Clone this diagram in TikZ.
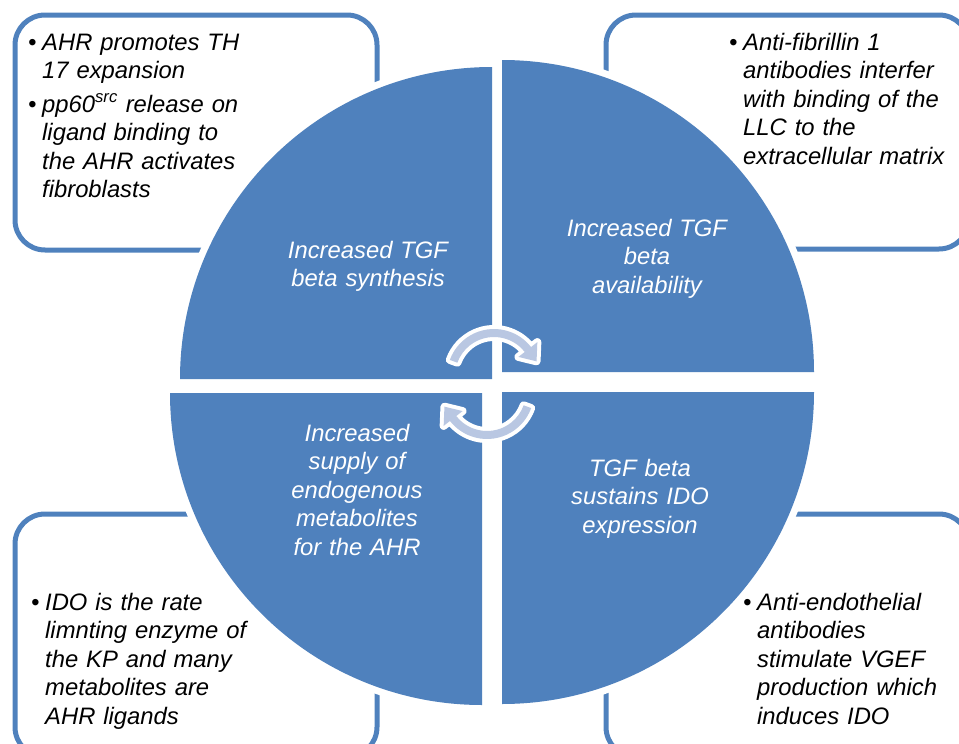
\documentclass[tikz,border=0pt]{standalone}
\usepackage{fontspec}
\setmainfont{Liberation Sans}
\usepackage{tikz}
\usepackage{xcolor}
\definecolor{cycblue}{RGB}{79,129,189}
\definecolor{arrowfill}{RGB}{185,199,226}
\newcommand{\bul}{\makebox[14pt][l]{\textbullet}}
\newcommand{\ind}{\hspace*{14pt}}

\begin{document}
\begin{tikzpicture}[x=1pt, y=-1pt,
        every node/.style={font=\fontsize{23.8}{28.5}\selectfont\itshape},
        card/.style={draw=cycblue, line width=5pt, rounded corners=30pt},
        quad/.style={fill=cycblue, preaction={draw=white, line width=14pt, line join=round}},
        cyc/.style={fill=arrowfill, preaction={draw=white, line width=8pt, line join=round}},
        inner/.style={text=white, text width=220pt, align=center, anchor=base, inner sep=0pt},
        note/.style={text=black, text width=340pt, align=left, anchor=base west, inner sep=0pt}]
        \useasboundingbox (0,0) rectangle (959,744);
        \clip (0,0) rectangle (959,744);

        % boxes behind the circle
        \draw[card] (15,15) rectangle (377,250);
        \draw[card] (606,15) rectangle (969,249);
        \draw[card] (15,514) rectangle (377,757);
        \draw[card] (606,514) rectangle (969,757);

        % four quarters
        \path[quad] (492,379) -- ++(-312,0) arc[start angle=180, end angle=270, radius=312] -- cycle;
        \path[quad] (502,372) -- ++(0,-312) arc[start angle=270, end angle=360, radius=312] -- cycle;
        \path[quad] (502,392) -- ++(312,0) arc[start angle=0, end angle=90, radius=312] -- cycle;
        \path[quad] (482,393) -- ++(0,312) arc[start angle=90, end angle=180, radius=312] -- cycle;

        \node[inner] (synth) at (368,258) {Increased TGF\\beta synthesis};
        \node[inner] (avail) at (647,236) {Increased TGF\\beta\\availability};
        \node[inner] (supply) at (357,441) {Increased\\supply of\\endogenous\\metabolites\\for the AHR};
        \node[inner] (sustain) at (640,476) {TGF beta\\sustains IDO\\expression};

        % cycle arrows
        \begin{scope}[shift={(494,376)}]
            \path[cyc] (200:47) arc[start angle=200, end angle=322, radius=47] -- (322:55) -- (341:45)
                -- (322:31) -- (322:39) arc[start angle=322, end angle=200, radius=39] -- cycle;
        \end{scope}
        \begin{scope}[shift={(487,392)}]
            \path[cyc] (20:47) arc[start angle=20, end angle=142, radius=47] -- (142:55) -- (161:45)
                -- (142:31) -- (142:39) arc[start angle=142, end angle=20, radius=39] -- cycle;
        \end{scope}

        \node[note] (th17) at (28,50) {\bul AHR promotes TH\\\ind 17 expansion};
        \node[note] (pp60) at (28,112) {\bul pp60\textsuperscript{src} release on\\\ind ligand binding to\\\ind the AHR activates\\\ind fibroblasts};
        \node[note] (fibr) at (729,50) {\bul Anti-fibrillin 1\\\ind antibodies interfer\\\ind with binding of the\\\ind LLC to the\\\ind extracellular matrix};
        \node[note] (ido) at (31,610) {\bul IDO is the rate\\\ind limnting enzyme of\\\ind the KP and many\\\ind metabolites are\\\ind AHR ligands};
        \node[note] (endo) at (743,610) {\bul Anti-endothelial\\\ind antibodies\\\ind stimulate VGEF\\\ind production which\\\ind induces IDO};
    \end{tikzpicture}
\end{document}
